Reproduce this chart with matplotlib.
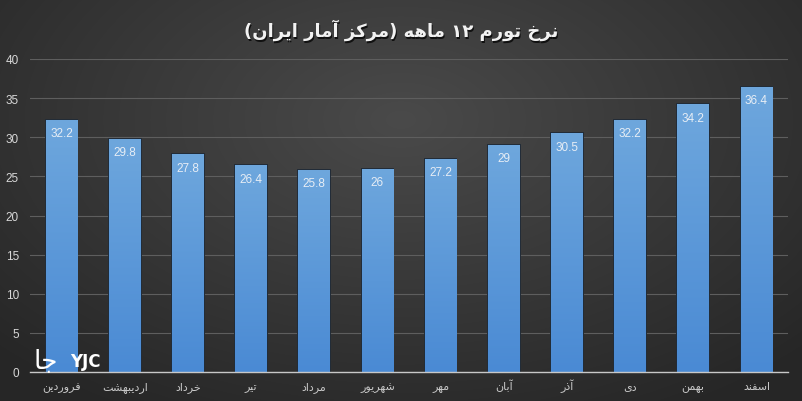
import re
import numpy as np
import matplotlib
matplotlib.use("Agg")
import matplotlib.pyplot as plt
from matplotlib.colors import LinearSegmentedColormap

months = ["فروردین", "اردیبهشت", "خرداد", "تیر", "مرداد", "شهریور",
          "مهر", "آبان", "آذر", "دی", "بهمن", "اسفند"]
inflation = [32.2, 29.8, 27.8, 26.4, 25.8, 26, 27.2, 29, 30.5, 32.2, 34.2, 36.4]
value_labels = ["32.2", "29.8", "27.8", "26.4", "25.8", "26",
                "27.2", "29", "30.5", "32.2", "34.2", "36.4"]
yticks = [0, 5, 10, 15, 20, 25, 30, 35, 40]
title = "نرخ تورم ۱۲ ماهه (مرکز آمار ایران)"

# matplotlib has no arabic shaping -> map to presentation forms by hand
# (iso, fin, ini, med); right-joining letters only have iso/fin
FORMS = {
    "ا": (0xFE8D, 0xFE8E, None, None),
    "آ": (0xFE81, 0xFE82, None, None),
    "د": (0xFEA9, 0xFEAA, None, None),
    "ذ": (0xFEAB, 0xFEAC, None, None),
    "ر": (0xFEAD, 0xFEAE, None, None),
    "ز": (0xFEAF, 0xFEB0, None, None),
    "و": (0xFEED, 0xFEEE, None, None),
    "ب": (0xFE8F, 0xFE90, 0xFE91, 0xFE92),
    "ت": (0xFE95, 0xFE96, 0xFE97, 0xFE98),
    "خ": (0xFEA5, 0xFEA6, 0xFEA7, 0xFEA8),
    "ج": (0xFE9D, 0xFE9E, 0xFE9F, 0xFEA0),
    "س": (0xFEB1, 0xFEB2, 0xFEB3, 0xFEB4),
    "ش": (0xFEB5, 0xFEB6, 0xFEB7, 0xFEB8),
    "ف": (0xFED1, 0xFED2, 0xFED3, 0xFED4),
    "م": (0xFEE1, 0xFEE2, 0xFEE3, 0xFEE4),
    "ن": (0xFEE5, 0xFEE6, 0xFEE7, 0xFEE8),
    "ه": (0xFEE9, 0xFEEA, 0xFEEB, 0xFEEC),
    "ی": (0xFBFC, 0xFBFD, 0xFBFE, 0xFBFF),
    "ک": (0xFB8E, 0xFB8F, 0xFB90, 0xFB91),
}


def rtl(s):
    out = []
    for i, c in enumerate(s):
        if c not in FORMS:
            out.append(c)
            continue
        prev = s[i - 1] if i > 0 else ""
        nxt = s[i + 1] if i + 1 < len(s) else ""
        jp = prev in FORMS and FORMS[prev][2] is not None
        jn = FORMS[c][2] is not None and nxt in FORMS
        iso, fin, ini, med = FORMS[c]
        code = med if (jp and jn) else fin if jp else ini if jn else iso
        out.append(chr(code))
    vis = "".join(out)[::-1]
    vis = re.sub(r"[0-9۰-۹.]+", lambda m: m.group(0)[::-1], vis)
    return vis.translate(str.maketrans("()", ")("))


plt.rcParams["font.family"] = ["DejaVu Sans"]

fig = plt.figure(figsize=(8.02, 4.02), dpi=100)

# radial dark background
bg = fig.add_axes([0, 0, 1, 1], zorder=-10)
yy, xx = np.mgrid[0:1:402j, 0:1:802j]
r = np.sqrt(((xx - 0.5) / 0.75) ** 2 + ((yy - 0.3) / 0.9) ** 2)
shade = np.clip(0.29 - 0.15 * r, 0.15, 0.3)
bg.imshow(np.dstack([shade, shade, shade]), aspect="auto", extent=[0, 1, 0, 1])
bg.set_axis_off()

ax = fig.add_axes([30 / 802, 29 / 402, 758 / 802, 313 / 402])
ax.set_facecolor("none")

x = np.arange(len(months))
bw = 0.5
bars = ax.bar(x, inflation, width=bw, color="#5b9bd5", edgecolor="#222c38",
              linewidth=1.4, zorder=3)
cmap = LinearSegmentedColormap.from_list("bar", ["#4a8ad4", "#6ea7dd"])
grad = np.linspace(0, 1, 256).reshape(-1, 1)
for xi, h, b in zip(x, inflation, bars):
    im = ax.imshow(grad, cmap=cmap, aspect="auto", origin="lower",
                   extent=[xi - bw / 2, xi + bw / 2, 0, h], zorder=4)
    im.set_clip_path(b)

for xi, h, lab in zip(x, inflation, value_labels):
    ax.text(xi, h - 1.7, lab, ha="center", va="center", fontsize=8.5,
            family="Liberation Sans", color="#e6edf5", zorder=5)

ax.set_xlim(-0.5, len(months) - 0.5)
ax.set_ylim(0, 40)
ax.set_yticks(yticks)
ax.set_xticks(x)
ax.set_xticklabels([rtl(m) for m in months], fontsize=8, color="#c8c8c8",
                   va="baseline")
ax.tick_params(axis="y", labelsize=8.5, colors="#d8d8d8", length=0, pad=8)
for t in ax.get_yticklabels():
    t.set_family("Liberation Sans")
ax.tick_params(axis="x", length=0, pad=12)
ax.grid(axis="y", color="#5e5e5e", linewidth=0.8, zorder=0)
for s in ["top", "right", "left"]:
    ax.spines[s].set_visible(False)
ax.spines["bottom"].set_color("#c8c8c8")
ax.spines["bottom"].set_linewidth(1.0)
ax.spines["bottom"].set_zorder(6)

fig.text(0.5 + 0.0015, 0.925 - 0.004, rtl(title), ha="center", va="center",
         fontsize=13, fontweight="bold", color="#111111")
fig.text(0.5, 0.925, rtl(title), ha="center", va="center",
         fontsize=13, fontweight="bold", color="#f2f2f2")

# watermark
fig.text(0.087, 0.1, "YJC", fontsize=12, fontweight="bold", color="white",
         ha="left", va="center", zorder=10)
fig.text(0.057, 0.1, rtl("جا"), fontsize=19, color="white",
         ha="center", va="center", zorder=10)

fig.savefig("out.png", dpi=100)
